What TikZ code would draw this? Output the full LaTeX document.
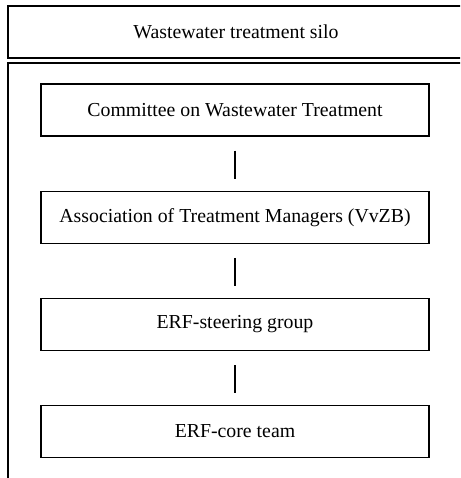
\documentclass[tikz,border=0pt]{standalone}
\usepackage{fontspec}
\setmainfont{Liberation Serif}
\usetikzlibrary{positioning}
\begin{document}
\begin{tikzpicture}[x=1pt,y=-1pt,node distance=54pt,
		unit/.style={draw,line width=1.2pt,minimum width=388pt,minimum height=52pt,inner sep=0pt,font=\fontsize{19.8}{24}\selectfont},
		link/.style={line width=1.2pt,shorten <=14pt,shorten >=12pt}]
				\useasboundingbox (0,0) rectangle (460,478);
				\clip (0,0) rectangle (460,478);
				% silo frame
				\draw[line width=1.4pt] (8,6) rectangle (475,58);
				\draw[line width=1.4pt] (8,63) rectangle (475,490);
				\node[font=\fontsize{19.8}{24}\selectfont] (silo) at (236,32) {Wastewater treatment silo};
				% the four levels
				\node[unit] (committee) at (235,110) {Committee on Wastewater Treatment};
				\node[unit,below=of committee] (vvzb) {Association of Treatment Managers (VvZB)};
				\node[unit,below=of vvzb] (steering) {ERF-steering group};
				\node[unit,below=of steering] (core) {ERF-core team};
				\foreach \upper/\lower in {committee/vvzb,vvzb/steering,steering/core} \draw[link] (\upper) to (\lower);
			\end{tikzpicture}
\end{document}
